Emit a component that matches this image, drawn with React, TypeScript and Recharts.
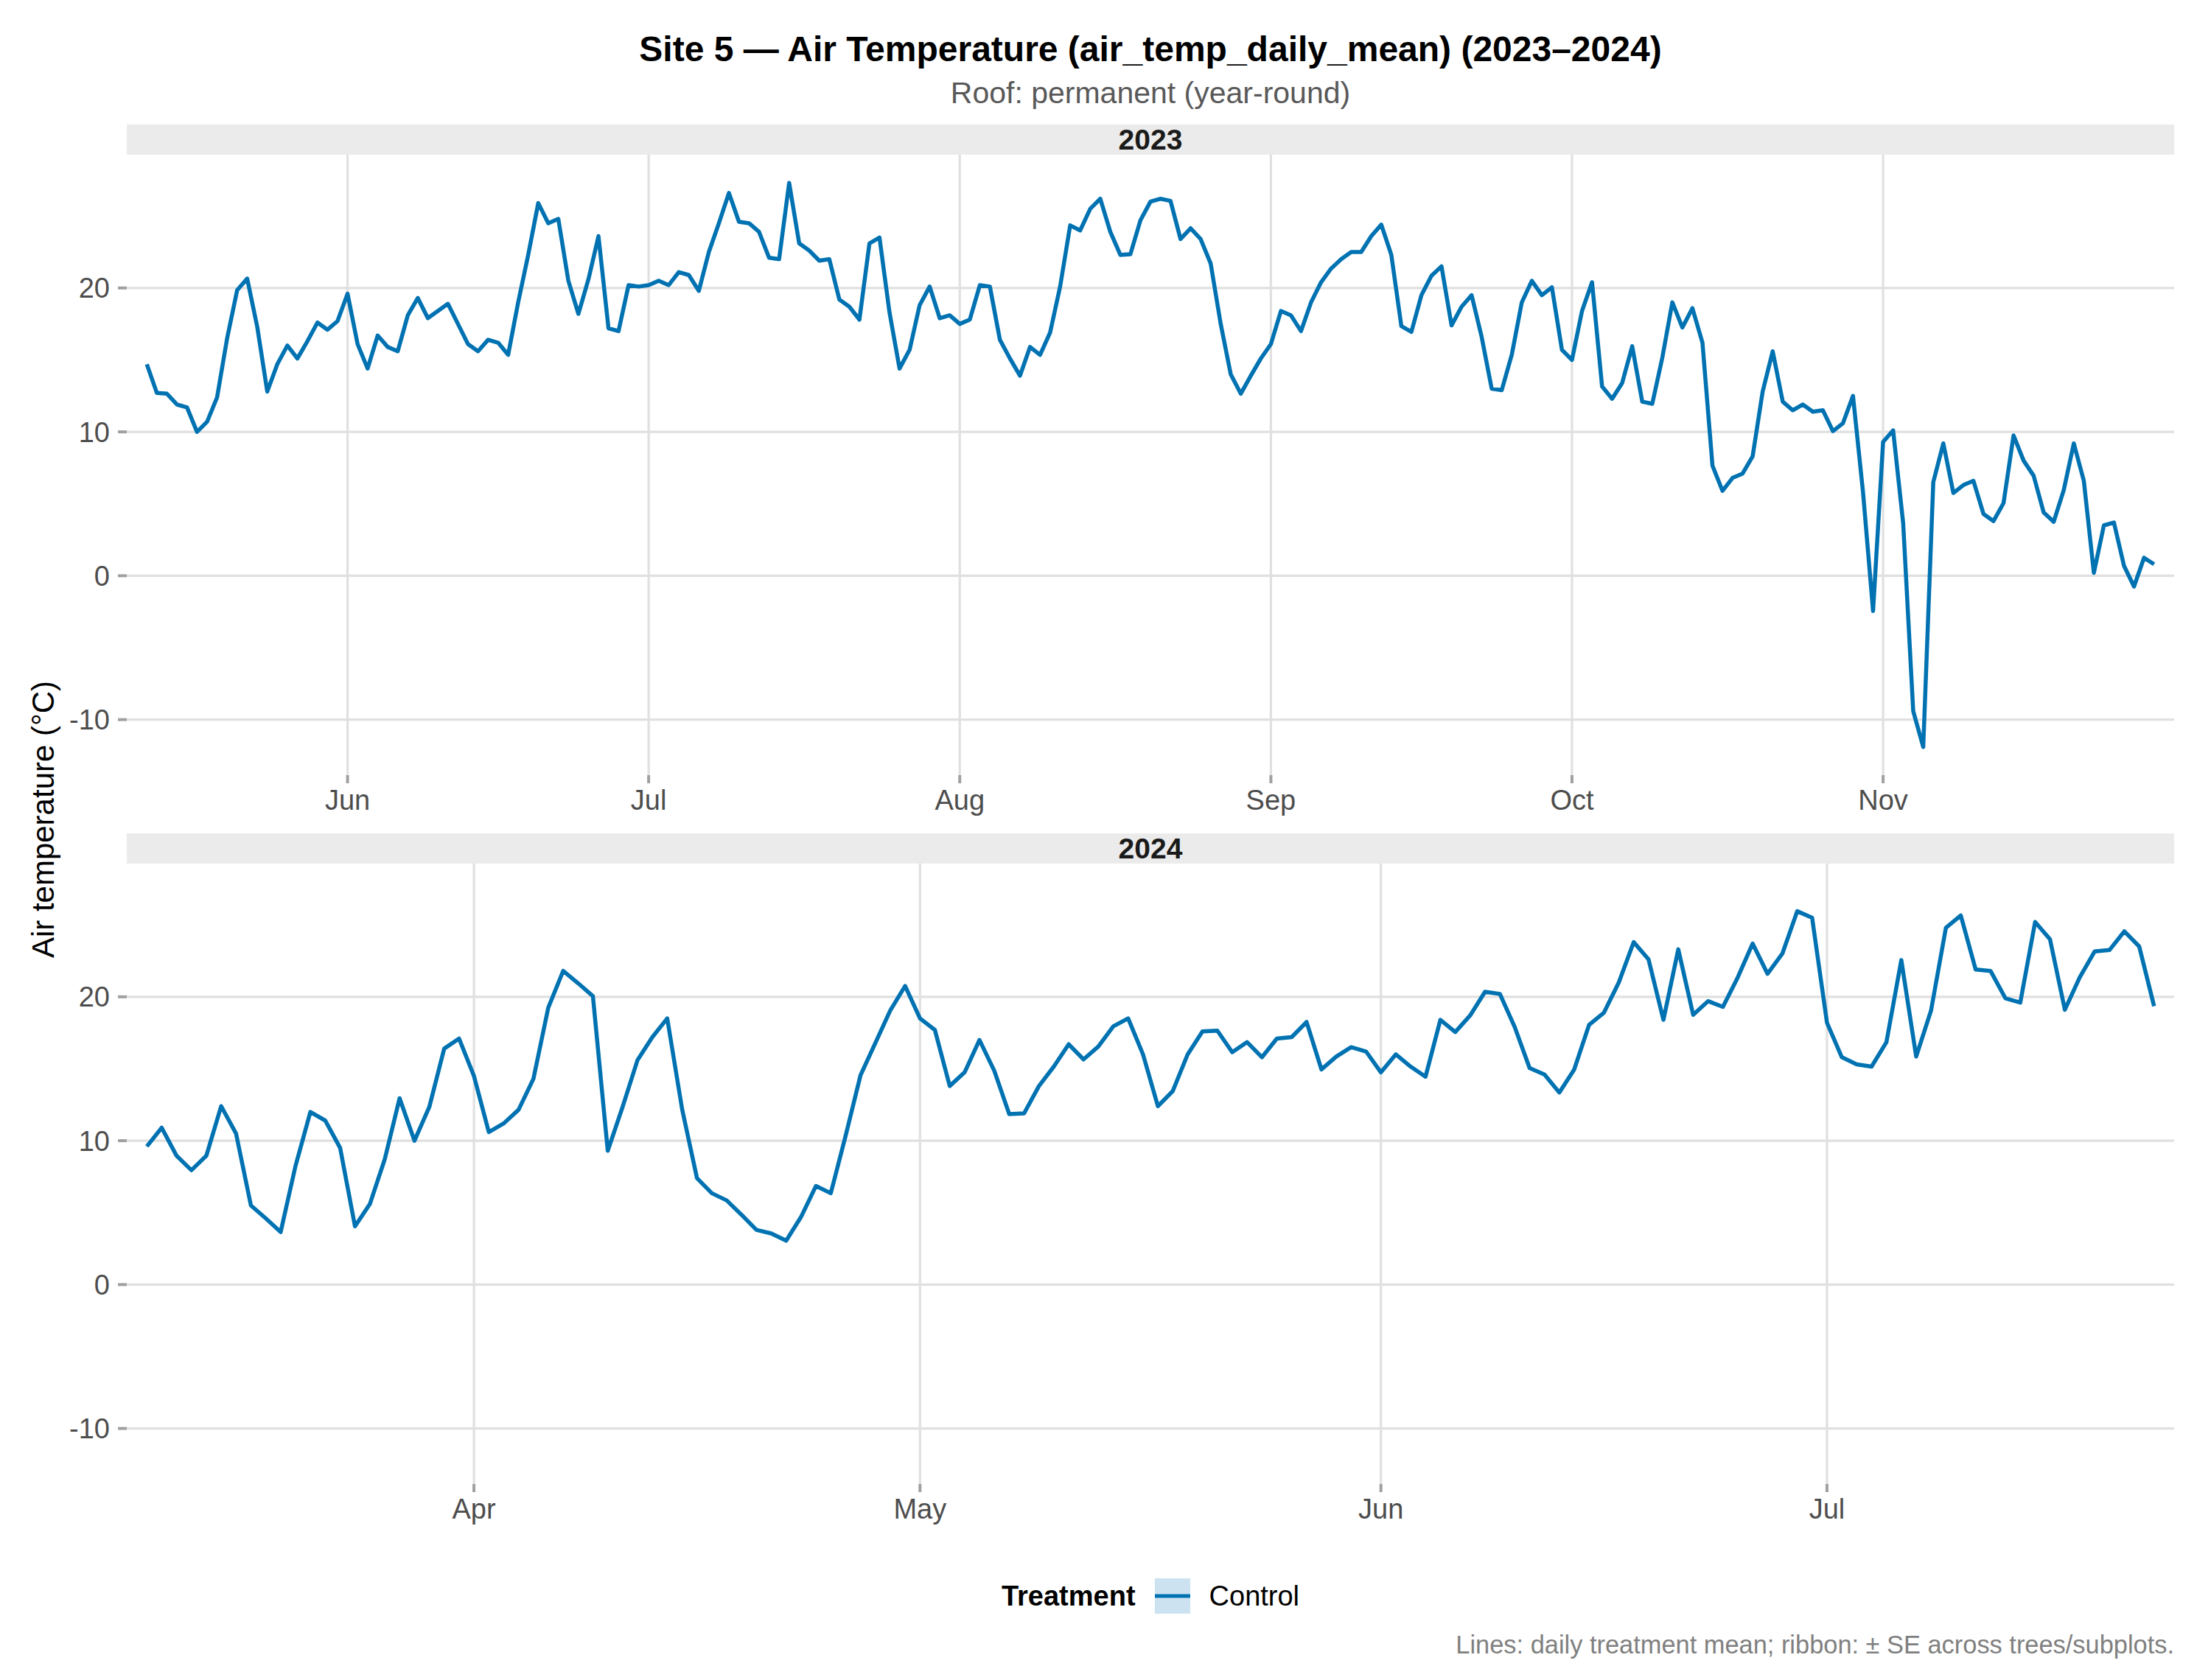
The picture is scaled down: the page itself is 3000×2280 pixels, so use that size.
import React from 'react';
import { LineChart, Line, XAxis, YAxis, CartesianGrid } from 'recharts';

const FONT = '"Liberation Sans", Arial, Helvetica, sans-serif';
const LINE_BLUE = '#0072B2';

// 2023 panel: daily means from 12 May to 28 Nov
const start2023 = '2023-05-12';
const temp2023 = [
  // May 12-31
  14.7, 12.7, 12.65, 11.9, 11.7, 10.0, 10.7, 12.4, 16.5, 19.85, 20.65, 17.3, 12.8, 14.7, 16.0, 15.1, 16.3, 17.6, 17.1, 17.7,
  // Jun
  19.6, 16.1, 14.4, 16.7, 15.9, 15.6, 18.1, 19.3, 17.9, 18.4, 18.9, 17.5, 16.1, 15.6, 16.4, 16.2, 15.35, 19.0, 22.3, 25.9,
  24.5, 24.8, 20.5, 18.2, 20.6, 23.6, 17.2, 17.0, 20.2, 20.1,
  // Jul
  20.2, 20.5, 20.2, 21.1, 20.9, 19.8, 22.5, 24.5, 26.6, 24.6, 24.5, 23.9, 22.1, 22.0, 27.3, 23.1, 22.6, 21.9, 22.0, 19.2,
  18.7, 17.8, 23.1, 23.5, 18.3, 14.4, 15.7, 18.8, 20.1, 17.9, 18.1,
  // Aug
  17.5, 17.8, 20.2, 20.1, 16.4, 15.1, 13.9, 15.9, 15.35, 16.9, 20.1, 24.35, 24.0, 25.5, 26.2, 23.9, 22.3, 22.35, 24.7, 26.0,
  26.2, 26.05, 23.4, 24.15, 23.4, 21.7, 17.5, 14.0, 12.65, 13.9, 15.1,
  // Sep
  16.1, 18.4, 18.1, 17.0, 19.0, 20.4, 21.35, 22.0, 22.5, 22.5, 23.6, 24.4, 22.3, 17.35, 16.95, 19.5, 20.85, 21.5, 17.4, 18.7,
  19.5, 16.6, 13.0, 12.9, 15.35, 19.0, 20.5, 19.5, 20.05, 15.7,
  // Oct
  15.0, 18.4, 20.4, 13.15, 12.3, 13.4, 15.95, 12.1, 11.95, 15.15, 19.0, 17.25, 18.6, 16.2, 7.65, 5.9, 6.8, 7.1, 8.3, 12.8,
  15.6, 12.1, 11.5, 11.9, 11.4, 11.5, 10.05, 10.6, 12.5, 5.8, -2.45,
  // Nov 1-28
  9.3, 10.1, 3.65, -9.4, -11.9, 6.5, 9.2, 5.75, 6.3, 6.6, 4.3, 3.8, 5.05, 9.75, 8.0, 6.95, 4.4, 3.75, 5.95, 9.2,
  6.6, 0.2, 3.5, 3.7, 0.7, -0.75, 1.25, 0.8,
];
const ticks2023 = ['2023-06-01', '2023-07-01', '2023-08-01', '2023-09-01', '2023-10-01', '2023-11-01'];

// 2024 panel: daily means from 10 Mar to 23 Jul
const start2024 = '2024-03-10';
const temp2024 = [
  // Mar 10-31
  9.6, 10.9, 8.95, 7.95, 8.95, 12.4, 10.5, 5.5, 4.6, 3.65, 8.25, 12.0, 11.4, 9.5, 4.05, 5.6, 8.7, 12.95, 10.0, 12.35,
  16.4, 17.1,
  // Apr
  14.5, 10.6, 11.2, 12.15, 14.3, 19.25, 21.8, 20.95, 20.05, 9.3, 12.35, 15.6, 17.2, 18.5, 12.2, 7.4, 6.35, 5.85, 4.85, 3.8,
  3.55, 3.05, 4.7, 6.85, 6.35, 10.35, 14.55, 16.8, 19.05, 20.75,
  // May
  18.5, 17.7, 13.8, 14.75, 17.0, 14.85, 11.85, 11.9, 13.8, 15.15, 16.7, 15.65, 16.55, 17.95, 18.5, 16.0, 12.4, 13.45, 16.0, 17.6,
  17.65, 16.15, 16.85, 15.8, 17.1, 17.2, 18.25, 14.95, 15.85, 16.5, 16.2,
  // Jun
  14.75, 16.0, 15.15, 14.45, 18.4, 17.55, 18.7, 20.35, 20.2, 17.9, 15.05, 14.6, 13.35, 14.95, 18.05, 18.9, 21.0, 23.8, 22.6, 18.4,
  23.3, 18.75, 19.7, 19.3, 21.35, 23.7, 21.6, 23.0, 25.95, 25.5,
  // Jul 1-23
  18.2, 15.8, 15.3, 15.15, 16.85, 22.55, 15.85, 19.05, 24.8, 25.65, 21.9, 21.8, 19.9, 19.6, 25.2, 24.0, 19.1, 21.35, 23.15, 23.25,
  24.55, 23.5, 19.35,
];
const ticks2024 = ['2024-04-01', '2024-05-01', '2024-06-01', '2024-07-01'];

const yTicks = [-10, 0, 10, 20];
const yDomain: [number, number] = [-13.86, 29.26];
const monthNames = ['Jan', 'Feb', 'Mar', 'Apr', 'May', 'Jun', 'Jul', 'Aug', 'Sep', 'Oct', 'Nov', 'Dec'];

const DAY = 86400000;
const toMs = (s: string) => {
  const [y, m, d] = s.split('-').map(Number);
  return Date.UTC(y, m - 1, d);
};

const buildSeries = (start: string, values: number[]) => {
  const t0 = toMs(start);
  return values.map((v, i) => ({ t: t0 + i * DAY, temp: v }));
};

const series2023 = buildSeries(start2023, temp2023);
const series2024 = buildSeries(start2024, temp2024);

// layout (px)
const W = 3000;
const H = 2280;
const PLOT_LEFT = 172;
const PLOT_RIGHT = 2950;
const PLOT_H = 842;
const X_AXIS_H = 80;
const GRID = '#e0e0e0';
const TICK_LINE = { stroke: '#a0a0a0', strokeWidth: 4 };
const TICK_TEXT = { fill: '#4d4d4d', fontSize: 38, fontFamily: FONT };

interface PanelProps {
  data: { t: number; temp: number }[];
  ticks: string[];
  top: number;
}

const YearPanel: React.FC<PanelProps> = ({ data, ticks, top }) => {
  const t0 = data[0].t;
  const t1 = data[data.length - 1].t;
  const pad = (t1 - t0) * 0.01;
  return (
    <div style={{ position: 'absolute', left: 0, top }}>
      <LineChart
        width={W}
        height={PLOT_H + X_AXIS_H}
        data={data}
        margin={{ top: 0, right: W - PLOT_RIGHT, bottom: 0, left: 0 }}
      >
        <CartesianGrid stroke={GRID} strokeWidth={3.2} syncWithTicks />
        <XAxis
          dataKey="t"
          type="number"
          domain={[t0 - pad, t1 + pad]}
          ticks={ticks.map(toMs)}
          interval={0}
          tickFormatter={(v: number) => monthNames[new Date(v).getUTCMonth()]}
          height={X_AXIS_H}
          axisLine={false}
          tickLine={TICK_LINE}
          tickSize={11}
          tickMargin={9}
          tick={TICK_TEXT}
          allowDataOverflow
        />
        <YAxis
          type="number"
          domain={yDomain}
          ticks={yTicks}
          interval={0}
          width={PLOT_LEFT}
          axisLine={false}
          tickLine={TICK_LINE}
          tickSize={12}
          tickMargin={11}
          tick={TICK_TEXT}
          allowDataOverflow
        />
        <Line
          type="linear"
          dataKey="temp"
          stroke={LINE_BLUE}
          strokeWidth={5.5}
          strokeLinejoin="round"
          dot={false}
          activeDot={false}
          isAnimationActive={false}
        />
      </LineChart>
    </div>
  );
};

const Strip: React.FC<{ label: string; top: number }> = ({ label, top }) => (
  <div
    style={{
      position: 'absolute',
      left: PLOT_LEFT,
      top,
      width: PLOT_RIGHT - PLOT_LEFT,
      height: 41,
      background: '#ebebeb',
      fontWeight: 'bold',
      fontSize: 39,
      lineHeight: '41px',
      textAlign: 'center',
      color: '#1a1a1a',
    }}
  >
    {label}
  </div>
);

const App: React.FC = () => {
  const centerX = (PLOT_LEFT + PLOT_RIGHT) / 2;
  return (
    <div
      style={{
        position: 'absolute',
        left: 0,
        top: 0,
        width: W,
        height: H,
        background: '#ffffff',
        fontFamily: FONT,
        overflow: 'hidden',
      }}
    >
      <div
        style={{
          position: 'absolute',
          left: PLOT_LEFT,
          width: PLOT_RIGHT - PLOT_LEFT,
          top: 43,
          textAlign: 'center',
          fontSize: 48,
          lineHeight: '48px',
          fontWeight: 'bold',
          color: '#000',
        }}
      >
        Site 5 — Air Temperature (air_temp_daily_mean) (2023–2024)
      </div>
      <div
        style={{
          position: 'absolute',
          left: PLOT_LEFT,
          width: PLOT_RIGHT - PLOT_LEFT,
          top: 106,
          textAlign: 'center',
          fontSize: 41,
          lineHeight: '41px',
          color: '#595959',
        }}
      >
        Roof: permanent (year-round)
      </div>

      <Strip label="2023" top={169} />
      <YearPanel data={series2023} ticks={ticks2023} top={210} />

      <Strip label="2024" top={1131} />
      <YearPanel data={series2024} ticks={ticks2024} top={1172} />

      <div
        style={{
          position: 'absolute',
          left: 59,
          top: 1112,
          transform: 'translate(-50%, -50%) rotate(-90deg)',
          whiteSpace: 'nowrap',
          fontSize: 42,
          lineHeight: '42px',
          color: '#000',
        }}
      >
        Air temperature (°C)
      </div>

      {/* legend */}
      <div
        style={{
          position: 'absolute',
          left: centerX,
          top: 2166,
          transform: 'translate(-50%, -50%)',
          display: 'flex',
          alignItems: 'center',
          whiteSpace: 'nowrap',
          fontSize: 38,
          color: '#000',
        }}
      >
        <span style={{ fontWeight: 'bold', marginRight: 26 }}>Treatment</span>
        <svg width={48} height={48} style={{ display: 'block' }}>
          <rect x={0} y={0} width={48} height={48} fill="#cce2f0" />
          <line x1={0} x2={48} y1={24} y2={24} stroke={LINE_BLUE} strokeWidth={5} />
        </svg>
        <span style={{ marginLeft: 26 }}>Control</span>
      </div>

      <div
        style={{
          position: 'absolute',
          right: W - PLOT_RIGHT,
          top: 2215,
          fontSize: 34.4,
          lineHeight: '34px',
          color: '#808080',
          whiteSpace: 'nowrap',
        }}
      >
        Lines: daily treatment mean; ribbon: ± SE across trees/subplots.
      </div>
    </div>
  );
};

export default App;
